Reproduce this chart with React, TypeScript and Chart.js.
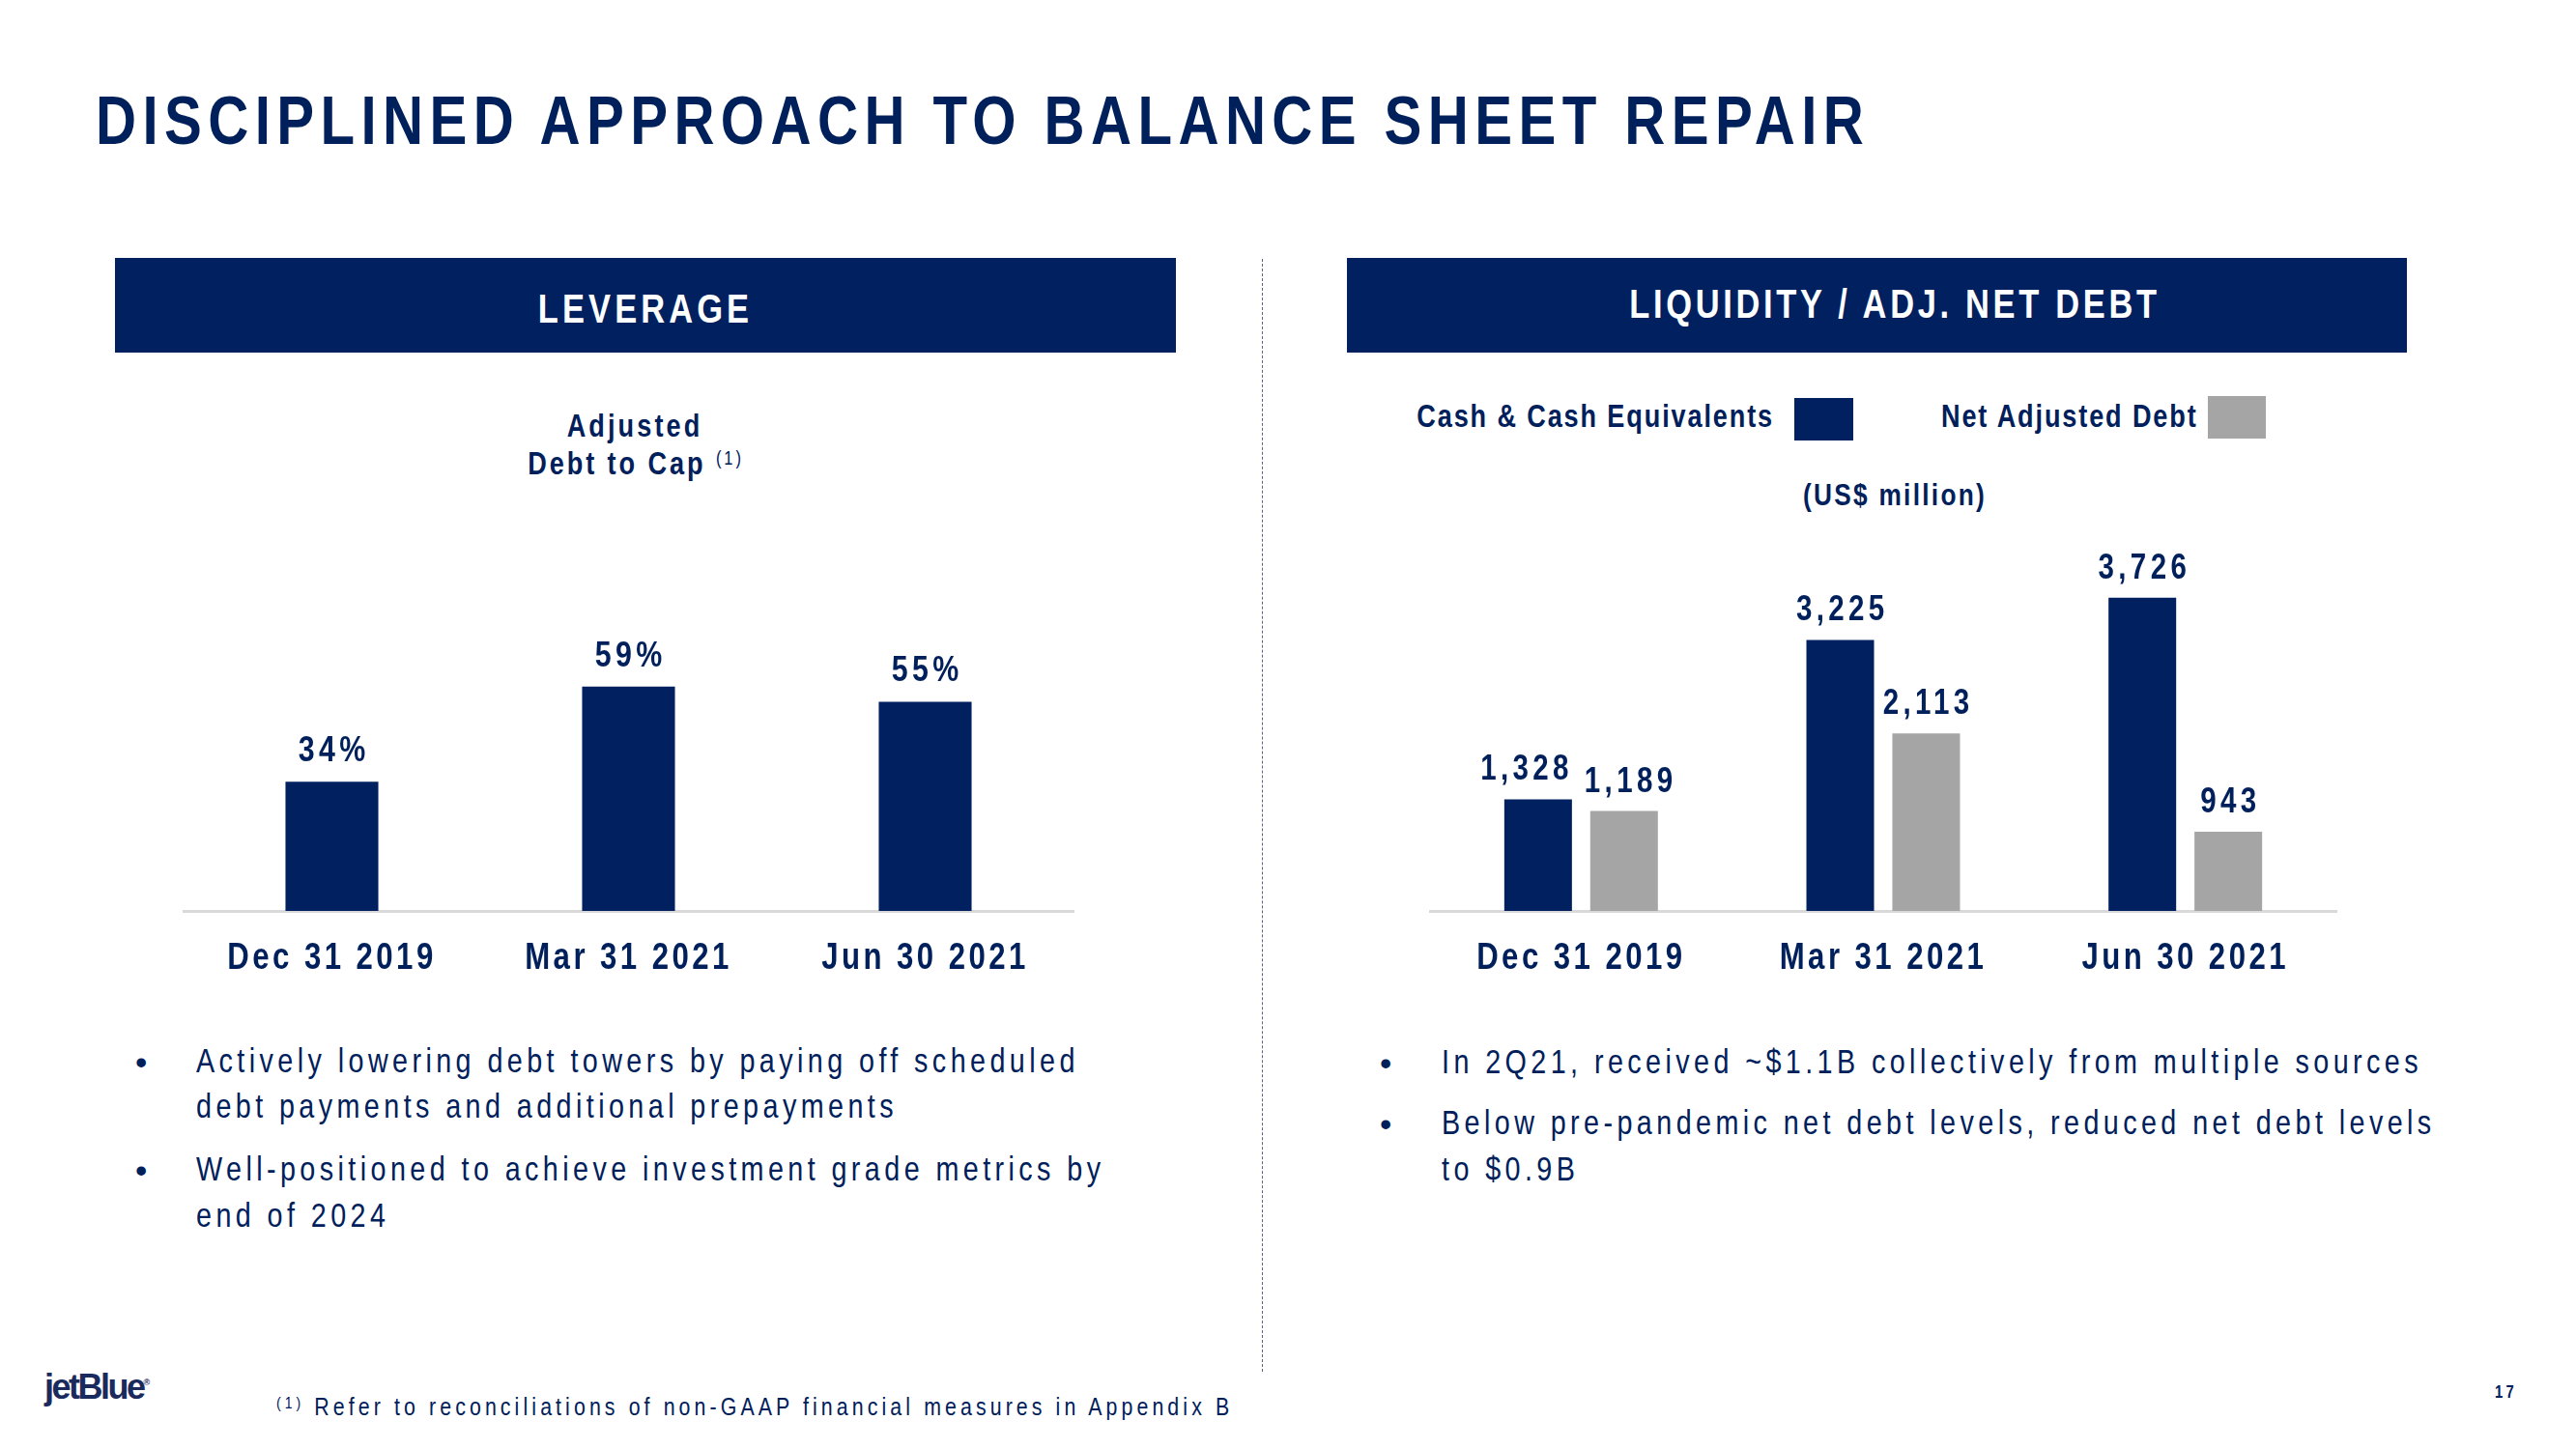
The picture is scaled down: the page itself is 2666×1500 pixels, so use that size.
import React, { useEffect, useRef } from "react";
import { Chart, registerables } from "chart.js";

Chart.register(...registerables);

// ---------- data ----------
const categories = ["Dec 31 2019", "Mar 31 2021", "Jun 30 2021"];
const leverageValues = [34, 59, 55];
const cashValues = [1328, 3225, 3726];
const netDebtValues = [1189, 2113, 943];
const seriesNames = ["Cash & Cash Equivalents", "Net Adjusted Debt"];

// ---------- style ----------
const NAVY = "#002060";
const GRAY = "#A5A5A5";
const TEXT = "#00205B";
const FONT = '"Liberation Sans", Arial, sans-serif';
const SX = 0.82; // horizontal condensing (narrow face emulation)

// make every canvas text horizontally condensed, like a narrow face
function condenseContext(canvas: HTMLCanvasElement) {
  const ctx = canvas.getContext("2d") as any;
  if (!ctx || ctx.__condensed) return;
  const orig = ctx.fillText.bind(ctx);
  ctx.fillText = (text: string, x: number, y: number) => {
    ctx.save();
    ctx.translate(x, y);
    ctx.scale(SX, 1);
    orig(text, 0, 0);
    ctx.restore();
  };
  ctx.__condensed = true;
}

const valueLabelPlugin = {
  id: "valueLabels",
  afterDatasetsDraw(chart: any, _args: any, opts: any) {
    const ctx = chart.ctx;
    ctx.save();
    ctx.font = opts.font;
    ctx.fillStyle = opts.color;
    ctx.textAlign = "center";
    ctx.textBaseline = "alphabetic";
    (ctx as any).letterSpacing = opts.spacing + "px";
    // collect labels per category
    const items: any[][] = [];
    chart.data.datasets.forEach((ds: any, i: number) => {
      const meta = chart.getDatasetMeta(i);
      meta.data.forEach((el: any, j: number) => {
        const v = ds.data[j] as number;
        const text = v.toLocaleString("en-US") + (opts.suffix || "");
        const w = ctx.measureText(text).width * SX;
        (items[j] = items[j] || []).push({ text, x: el.x, y: el.y - opts.offset, w });
      });
    });
    // push neighbouring labels in a group apart if they would collide
    items.forEach((group) => {
      for (let k = 1; k < group.length; k++) {
        const a = group[k - 1];
        const b = group[k];
        const vertClash = Math.abs(a.y - b.y) < (opts.lineHeight || 40);
        const overlap = a.w / 2 + b.w / 2 + (opts.minGap || 0) - (b.x - a.x);
        if (vertClash && overlap > 0) {
          a.x -= overlap * 0.75;
          b.x += overlap * 0.25;
        }
      }
      group.forEach((it) => ctx.fillText(it.text, it.x + (SX * opts.spacing) / 2, it.y));
    });
    ctx.restore();
  },
};

const spacingPlugin = {
  id: "tickSpacing",
  beforeDraw(chart: any, _a: any, opts: any) {
    (chart.ctx as any).letterSpacing = (opts.spacing || 0) + "px";
  },
  afterDraw(chart: any) {
    (chart.ctx as any).letterSpacing = "0px";
  },
};

function xAxis() {
  return {
    grid: { display: false, drawTicks: false },
    border: { display: true, color: "#D9D9D9", width: 3 },
    ticks: {
      color: TEXT,
      font: { family: FONT, size: 38, weight: "bold" as const },
      padding: 27,
      autoSkip: false,
      maxRotation: 0,
    },
  };
}

function LeverageChart() {
  const ref = useRef<HTMLCanvasElement>(null);
  useEffect(() => {
    condenseContext(ref.current!);
    const chart = new Chart(ref.current!, {
      type: "bar",
      data: {
        labels: categories,
        datasets: [
          {
            label: "Adjusted Debt to Cap",
            data: leverageValues,
            backgroundColor: NAVY,
            categoryPercentage: 1,
            barPercentage: 0.313,
          },
        ],
      },
      options: {
        animation: false,
        responsive: false,
        devicePixelRatio: 1,
        layout: { padding: { left: 40, right: 39, top: 68, bottom: 17.4 } },
        plugins: {
          legend: { display: false },
          tooltip: { enabled: false },
          valueLabels: {
            font: `bold 37px ${FONT}`,
            color: TEXT,
            spacing: 5.3,
            offset: 21,
            suffix: "%",
            minGap: 0,
            lineHeight: 40,
          },
          tickSpacing: { spacing: 4.2 },
        } as any,
        scales: {
          x: xAxis() as any,
          y: { display: false, min: 0, max: 80 },
        },
      },
      plugins: [valueLabelPlugin, spacingPlugin],
    });
    return () => chart.destroy();
  }, []);
  return (
    <canvas
      ref={ref}
      width={1000}
      height={500}
      style={{ position: "absolute", left: 150, top: 560, width: 1000, height: 500 }}
    />
  );
}

function LiquidityChart() {
  const ref = useRef<HTMLCanvasElement>(null);
  useEffect(() => {
    condenseContext(ref.current!);
    const chart = new Chart(ref.current!, {
      type: "bar",
      data: {
        labels: categories,
        datasets: [
          {
            label: seriesNames[0],
            data: cashValues,
            backgroundColor: NAVY,
            categoryPercentage: 0.569,
            barPercentage: 0.787,
          },
          {
            label: seriesNames[1],
            data: netDebtValues,
            backgroundColor: GRAY,
            categoryPercentage: 0.569,
            barPercentage: 0.787,
          },
        ],
      },
      options: {
        animation: false,
        responsive: false,
        devicePixelRatio: 1,
        layout: { padding: { left: 40, right: 42, top: 55, bottom: 17.4 } },
        plugins: {
          legend: { display: false },
          tooltip: { enabled: false },
          valueLabels: {
            font: `bold 36px ${FONT}`,
            color: TEXT,
            spacing: 5.3,
            offset: 20,
            suffix: "",
            minGap: 12,
            lineHeight: 40,
          },
          tickSpacing: { spacing: 4.2 },
        } as any,
        scales: {
          x: xAxis() as any,
          y: { display: false, min: 0, max: 4000 },
        },
      },
      plugins: [valueLabelPlugin, spacingPlugin],
    });
    return () => chart.destroy();
  }, []);
  return (
    <canvas
      ref={ref}
      width={1020}
      height={520}
      style={{ position: "absolute", left: 1440, top: 540, width: 1020, height: 520 }}
    />
  );
}

type TProps = {
  x: number;
  cy: number;
  size: number;
  bold?: boolean;
  spacing?: number;
  align?: "left" | "center" | "right";
  color?: string;
  sx?: number;
  children: React.ReactNode;
};

function T({ x, cy, size, bold, spacing = 0, align = "left", color = TEXT, sx = SX, children }: TProps) {
  const tx = align === "center" ? "translateX(-50%) " : align === "right" ? "translateX(-100%) " : "";
  return (
    <div
      style={{
        position: "absolute",
        left: x,
        top: cy - size / 2,
        lineHeight: `${size}px`,
        fontSize: size,
        fontFamily: FONT,
        fontWeight: bold ? 700 : 400,
        letterSpacing: spacing,
        color,
        whiteSpace: "nowrap",
        transform: `${tx}scaleX(${sx})`,
        transformOrigin: align,
      }}
    >
      {children}
    </div>
  );
}

function Sup({ size, raise, bold }: { size: number; raise: number; bold?: boolean }) {
  return (
    <span
      style={{
        fontSize: size,
        fontWeight: bold ? 700 : 400,
        position: "relative",
        top: -raise,
        lineHeight: 0,
      }}
    >
      (1)
    </span>
  );
}

export default function App() {
  return (
    <div
      style={{
        position: "absolute",
        left: 0,
        top: 0,
        width: 2666,
        height: 1500,
        background: "#FFFFFF",
        overflow: "hidden",
      }}
    >
      <T x={99} cy={124} size={71} bold spacing={7.8}>
        DISCIPLINED APPROACH TO BALANCE SHEET REPAIR
      </T>

      {/* section headers */}
      <div style={{ position: "absolute", left: 119, top: 267, width: 1098, height: 98, background: NAVY }} />
      <div style={{ position: "absolute", left: 1394, top: 267, width: 1097, height: 98, background: NAVY }} />
      <T x={668} cy={320} size={42} bold spacing={5} align="center" color="#FFFFFF">
        LEVERAGE
      </T>
      <T x={1961} cy={315} size={42} bold spacing={4.5} align="center" color="#FFFFFF">
        LIQUIDITY / ADJ. NET DEBT
      </T>

      {/* divider */}
      <div
        style={{
          position: "absolute",
          left: 1306,
          top: 268,
          width: 0,
          height: 1152,
          borderLeft: "1px dashed #5A6480",
        }}
      />

      {/* left subtitle */}
      <T x={657} cy={440} size={33} bold spacing={3.8} align="center">
        Adjusted
      </T>
      <T x={658} cy={479} size={33} bold spacing={3.6} align="center">
        Debt to Cap <Sup size={20} raise={10} />
      </T>

      {/* right legend */}
      <T x={1836} cy={430} size={33} bold spacing={2.3} align="right">
        {seriesNames[0]}
      </T>
      <div style={{ position: "absolute", left: 1857, top: 412, width: 61, height: 44, background: NAVY }} />
      <T x={2009} cy={430} size={33} bold spacing={2.3}>
        {seriesNames[1]}
      </T>
      <div style={{ position: "absolute", left: 2285, top: 410, width: 60, height: 44, background: GRAY }} />
      <T x={1961} cy={512} size={32} bold spacing={2.8} align="center">
        (US$ million)
      </T>

      <LeverageChart />
      <LiquidityChart />

      {/* left bullets */}
      <T x={140} cy={1099} size={35} sx={1}>•</T>
      <T x={203} cy={1097} size={35} spacing={5.4}>
        Actively lowering debt towers by paying off scheduled
      </T>
      <T x={203} cy={1144} size={35} spacing={5.4}>
        debt payments and additional prepayments
      </T>
      <T x={140} cy={1211} size={35} sx={1}>•</T>
      <T x={203} cy={1209} size={35} spacing={5.4}>
        Well-positioned to achieve investment grade metrics by
      </T>
      <T x={203} cy={1257} size={35} spacing={5.4}>
        end of 2024
      </T>

      {/* right bullets */}
      <T x={1428} cy={1100} size={35} sx={1}>•</T>
      <T x={1492} cy={1098} size={35} spacing={5.4}>
        In 2Q21, received ~$1.1B collectively from multiple sources
      </T>
      <T x={1428} cy={1163} size={35} sx={1}>•</T>
      <T x={1492} cy={1161} size={35} spacing={5.4}>
        Below pre-pandemic net debt levels, reduced net debt levels
      </T>
      <T x={1492} cy={1209} size={35} spacing={5.4}>
        to $0.9B
      </T>

      {/* footer */}
      <T x={46} cy={1436} size={36} bold spacing={-2.5} color="#1B2A5C" sx={1}>
        jetBlue
        <span style={{ fontSize: 9, position: "relative", top: -14, lineHeight: 0, letterSpacing: 0 }}>®</span>
      </T>
      <T x={286} cy={1456} size={26} spacing={5}>
        <Sup size={17} raise={7} /> Refer to reconciliations of non-GAAP financial measures in Appendix B
      </T>
      <T x={2582} cy={1441} size={18} bold spacing={4}>
        17
      </T>
    </div>
  );
}
